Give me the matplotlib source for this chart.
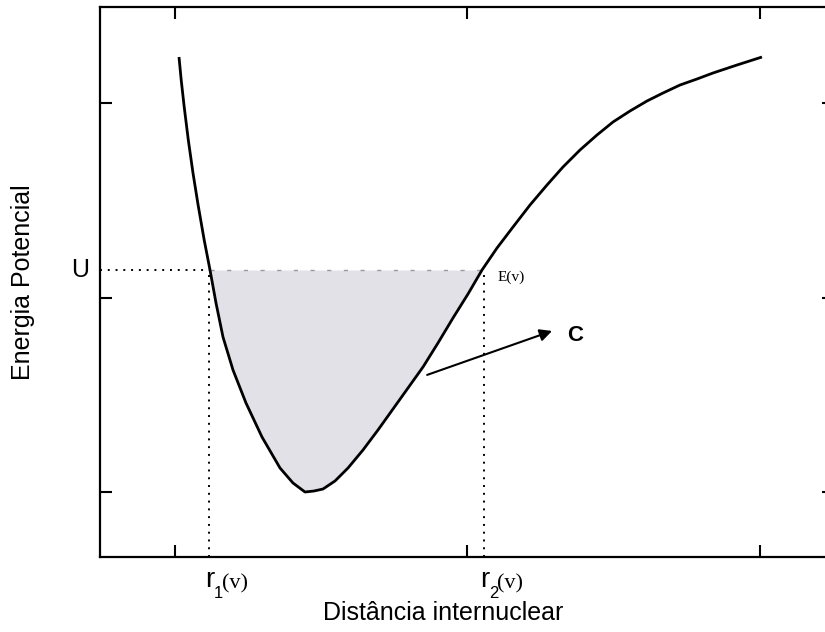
import numpy as np
import matplotlib
matplotlib.use("Agg")
import matplotlib.pyplot as plt

# potential energy curve (arbitrary units)
dist = np.array([1.0137, 1.0212, 1.0315, 1.0455, 1.0615, 1.0790, 1.0998, 1.1197,
                 1.1402, 1.1641, 1.1983, 1.2427, 1.2974, 1.3590, 1.4034, 1.4444,
                 1.4752, 1.5060, 1.5470, 1.5915, 1.6427, 1.6940, 1.7453, 1.7966,
                 1.8479, 1.8991, 1.9504, 2.0017, 2.0496, 2.1009, 2.1556, 2.2137,
                 2.2718, 2.3265, 2.3846, 2.4427, 2.4974, 2.5556, 2.6137, 2.6684,
                 2.7265, 2.7846, 2.8393, 2.9214, 3.0068])
energy = np.array([3.2365, 3.1183, 2.9794, 2.8098, 2.6401, 2.4756, 2.2956, 2.1414,
                   1.9717, 1.7969, 1.6273, 1.4576, 1.2828, 1.1234, 1.0463, 1.0000,
                   1.0051, 1.0154, 1.0566, 1.1234, 1.2159, 1.3188, 1.4267, 1.5347,
                   1.6427, 1.7661, 1.8946, 2.0180, 2.1414, 2.2545, 2.3625, 2.4756,
                   2.5784, 2.6710, 2.7584, 2.8355, 2.9023, 2.9589, 3.0103, 3.0514,
                   3.0925, 3.1234, 3.1542, 3.1954, 3.2365])
U = 2.1414
r1 = 1.117
r2 = 2.056
xticks = [1, 2, 3]
yticks = [1, 2, 3]

plt.rcParams['font.family'] = ['Liberation Sans', 'DejaVu Sans']

fig = plt.figure(figsize=(8.25, 6.32), dpi=100)
ax = fig.add_axes([100 / 825, 75 / 632, 734 / 825, 550 / 632])
ax.set_xlim(0.7436, 3.253)
ax.set_ylim(0.6658, 3.4936)

# shaded well below U
m = energy <= U + 1e-9
ax.fill_between(dist[m], energy[m], U, color='#e3e1e8', lw=0)
ax.plot([dist[m][0], dist[m][-1]], [U, U], color='#9a9a9a', lw=1,
        dashes=(3, 9))

ax.plot(dist, energy, color='black', lw=2, solid_joinstyle='round',
        solid_capstyle='butt')

# dotted guide lines
ax.plot([0.7436, r1], [U, U], color='black', ls=(0, (1, 3)), lw=1.4)
ax.plot([r1, r1], [0.6658, U], color='black', ls=(0, (1, 3)), lw=1.4)
ax.plot([r2, r2], [0.6658, U], color='black', ls=(0, (1, 3)), lw=1.4)

ax.set_xticks(xticks)
ax.set_yticks(yticks)
ax.set_xticklabels([])
ax.set_yticklabels([])
ax.tick_params(direction='in', length=8.5, width=1.5, top=True, right=True)
for s in ax.spines.values():
    s.set_linewidth(1.6)

# labels
ax.text(-0.105, 0.5, 'Energia Potencial', transform=ax.transAxes,
        rotation=90, ha='center', va='center', fontsize=18)
fig.text(443 / 825, 1 - 620 / 632, 'Distância internuclear',
         ha='center', va='baseline', fontsize=18)
ax.annotate('U', xy=(0, U), xycoords=('axes fraction', 'data'),
            xytext=(-20, 0), textcoords='offset pixels',
            ha='center', va='center', fontsize=18)

for r, sub in [(r1, '1'), (r2, '2')]:
    ax.annotate('r', xy=(r, 0), xycoords=('data', 'axes fraction'),
                xytext=(-4, -30), textcoords='offset pixels',
                ha='left', va='baseline', fontsize=20)
    ax.annotate(sub, xy=(r, 0), xycoords=('data', 'axes fraction'),
                xytext=(5, -41), textcoords='offset pixels',
                ha='left', va='baseline', fontsize=12)
    ax.annotate('(v)', xy=(r, 0), xycoords=('data', 'axes fraction'),
                xytext=(13, -31), textcoords='offset pixels',
                ha='left', va='baseline', fontsize=16,
                family='Liberation Serif')

ax.annotate('E(v)', xy=(r2, U), xytext=(14, -7), textcoords='offset pixels',
            ha='left', va='center', fontsize=11, family='Liberation Serif')

ax.annotate('', xy=(2.289, 1.828), xytext=(1.862, 1.602),
            arrowprops=dict(arrowstyle='-|>', color='black', lw=1.5,
                            mutation_scale=18, shrinkA=0, shrinkB=0))
ax.text(2.368, 1.807, 'C', ha='center', va='center', fontsize=16,
        fontweight='bold')

fig.savefig('out.png', dpi=100)
